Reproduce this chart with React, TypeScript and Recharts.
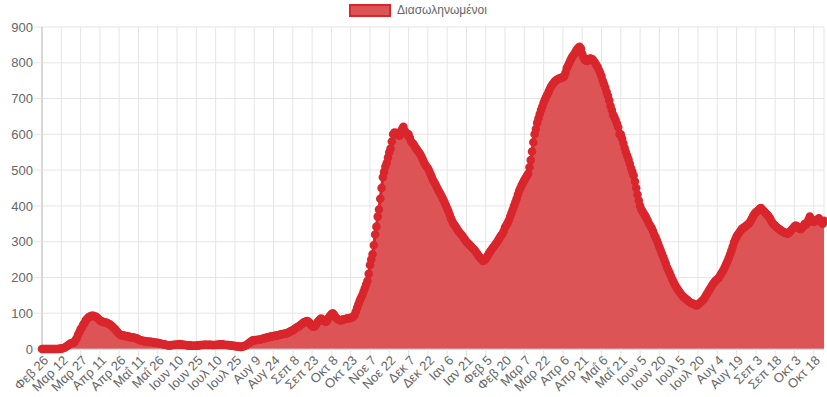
import React from "react";
import {
  AreaChart,
  Area,
  XAxis,
  YAxis,
  CartesianGrid,
  Legend,
} from "recharts";

// daily intubated patients, starting Feb 26 2020 (one row per 15-day tick)
const intubated: number[] = [
  0, 0, 0, 0, 0, 0, 0, 0, 0, 0, 0, 0, 0, 0, 1,
  1, 2, 3, 5, 7, 10, 12, 15, 16, 17, 18, 25, 30, 40, 47,
  55, 60, 68, 72, 80, 84, 88, 90, 92, 93, 93, 91, 90, 87, 84,
  80, 78, 76, 75, 74, 74, 72, 70, 68, 65, 62, 58, 55, 50, 46,
  42, 40, 38, 38, 37, 36, 36, 35, 34, 33, 33, 32, 31, 30, 29,
  27, 25, 24, 23, 22, 22, 21, 21, 20, 20, 20, 19, 18, 17, 17,
  17, 16, 15, 14, 14, 13, 12, 11, 10, 10, 10, 11, 11, 12, 12,
  12, 13, 14, 13, 12, 12, 11, 11, 10, 10, 10, 9, 9, 9, 9,
  9, 10, 10, 11, 11, 11, 12, 12, 12, 11, 12, 12, 11, 11, 11,
  11, 12, 12, 13, 13, 13, 12, 12, 11, 11, 11, 10, 10, 9, 9,
  8, 8, 7, 7, 6, 6, 7, 8, 9, 11, 14, 17, 19, 22, 24,
  24, 25, 25, 26, 26, 27, 28, 29, 30, 31, 32, 33, 34, 35, 35,
  36, 37, 37, 38, 39, 40, 41, 42, 42, 43, 44, 45, 47, 49, 51,
  52, 55, 58, 60, 62, 64, 67, 70, 73, 75, 76, 78, 77, 73, 68,
  64, 62, 63, 68, 74, 78, 82, 85, 82, 79, 77, 76, 82, 88, 93,
  97, 100, 96, 90, 86, 83, 81, 80, 81, 82, 83, 84, 85, 86, 86,
  87, 88, 90, 95, 105, 115, 125, 135, 143, 150, 160, 170, 180, 190, 210,
  235, 250, 265, 290, 320, 342, 370, 390, 420, 450, 480, 495, 510, 520, 535,
  550, 560, 580, 600, 605, 600, 604, 598, 596, 605, 615, 621, 610, 605, 598,
  600, 590, 580, 575, 572, 565, 560, 555, 550, 545, 538, 530, 522, 515, 510,
  505, 498, 490, 481, 472, 466, 460, 452, 445, 438, 432, 425, 418, 410, 402,
  393, 385, 375, 365, 357, 350, 345, 340, 334, 328, 324, 320, 315, 310, 305,
  300, 296, 293, 289, 285, 281, 278, 273, 268, 263, 258, 254, 250, 246, 248,
  252, 258, 264, 270, 275, 280, 285, 290, 295, 300, 306, 312, 317, 322, 330,
  340, 346, 352, 360, 370, 380, 390, 400, 410, 420, 432, 442, 450, 458, 465,
  472, 478, 484, 490, 508, 528, 552, 578, 600, 615, 632, 645, 657, 668, 678,
  688, 697, 705, 712, 720, 728, 735, 740, 745, 749, 752, 754, 756, 757, 758,
  760, 762, 772, 785, 792, 800, 808, 815, 820, 825, 832, 838, 842, 845, 840,
  825, 815, 808, 806, 805, 809, 812, 811, 810, 805, 800, 794, 788, 780, 772,
  762, 750, 740, 730, 718, 708, 695, 680, 668, 655, 648, 640, 630, 620, 600,
  600, 588, 575, 562, 550, 540, 530, 518, 505, 495, 485, 468, 450, 432, 415,
  400, 390, 384, 378, 372, 365, 358, 350, 344, 338, 330, 320, 312, 304, 295,
  285, 276, 266, 257, 248, 238, 228, 220, 212, 204, 195, 188, 180, 174, 168,
  163, 158, 153, 148, 145, 142, 139, 136, 133, 130, 128, 127, 125, 123, 122,
  124, 127, 130, 134, 137, 142, 148, 154, 160, 166, 172, 178, 183, 188, 192,
  195, 198, 204, 210, 216, 222, 230, 238, 246, 255, 265, 275, 286, 298, 306,
  314, 320, 325, 330, 335, 338, 340, 343, 346, 349, 352, 358, 365, 372, 378,
  382, 385, 388, 392, 394, 390, 386, 382, 378, 375, 370, 365, 358, 352, 348,
  345, 341, 338, 335, 333, 330, 328, 326, 325, 323, 322, 326, 330, 334, 338,
  342, 345, 343, 340, 336, 335, 338, 344, 350, 348, 352, 362, 370, 363, 358,
  355, 357, 360, 362, 365, 358, 355, 350, 358,
];

const tickLabels = [
  "Φεβ 26", "Μαρ 12", "Μαρ 27", "Απρ 11", "Απρ 26", "Μαΐ 11", "Μαΐ 26",
  "Ιουν 10", "Ιουν 25", "Ιουλ 10", "Ιουλ 25", "Αυγ 9", "Αυγ 24", "Σεπ 8",
  "Σεπ 23", "Οκτ 8", "Οκτ 23", "Νοε 7", "Νοε 22", "Δεκ 7", "Δεκ 22",
  "Ιαν 6", "Ιαν 21", "Φεβ 5", "Φεβ 20", "Μαρ 7", "Μαρ 22", "Απρ 6",
  "Απρ 21", "Μαΐ 6", "Μαΐ 21", "Ιουν 5", "Ιουν 20", "Ιουλ 5", "Ιουλ 20",
  "Αυγ 4", "Αυγ 19", "Σεπ 3", "Σεπ 18", "Οκτ 3", "Οκτ 18",
];
const tickStep = 15;
const yTicks = [0, 100, 200, 300, 400, 500, 600, 700, 800, 900];
const seriesName = "Διασωληνωμένοι";

const FONT = "'Liberation Sans', Arial, Helvetica, sans-serif";
const LINE = "#d9262c";
const FILL = "#dd5457";

const data = intubated.map((v, i) => ({ day: i, v }));
const xTicks = tickLabels.map((_, i) => i * tickStep);

function XTick(props: any) {
  const { x, y, payload } = props;
  const label = tickLabels[Math.round(payload.value / tickStep)] ?? "";
  const ox = x + 4;
  const oy = y + 1;
  return (
    <text
      x={ox}
      y={oy}
      textAnchor="end"
      dy="0.35em"
      transform={`rotate(-45 ${ox} ${oy})`}
      fill="#666"
      fontSize={13}
      fontFamily={FONT}
    >
      {label}
    </text>
  );
}

function LegendBox() {
  return (
    <div
      style={{
        display: "flex",
        justifyContent: "center",
        alignItems: "center",
        height: 20,
        paddingLeft: 12,
        fontFamily: FONT,
        fontSize: 12,
        color: "#666",
      }}
    >
      <span
        style={{
          display: "inline-block",
          width: 38,
          height: 9,
          background: FILL,
          border: `2px solid ${LINE}`,
          marginRight: 6,
        }}
      />
      {seriesName}
    </div>
  );
}

export default function App() {
  return (
    <div style={{ position: "absolute", left: 0, top: 0, width: 827, height: 397, background: "#fff" }}>
      <AreaChart
        width={827}
        height={397}
        data={data}
        margin={{ top: 7, right: 3, left: 0, bottom: 0 }}
      >
        <Legend verticalAlign="top" wrapperStyle={{ top: 0 }} content={() => <LegendBox />} />
        <CartesianGrid stroke="#e5e5e5" />
        <XAxis
          dataKey="day"
          type="number"
          domain={[0, intubated.length - 1]}
          ticks={xTicks}
          interval={0}
          height={48}
          tick={<XTick />}
          tickSize={8}
          tickMargin={0}
          tickLine={{ stroke: "#e5e5e5" }}
          axisLine={{ stroke: "#bdbdbd" }}
        />
        <YAxis
          domain={[0, 900]}
          ticks={yTicks}
          interval={0}
          width={42}
          tickSize={8}
          tickMargin={1}
          tickLine={{ stroke: "#e5e5e5" }}
          axisLine={{ stroke: "#bdbdbd" }}
          tick={{ fill: "#666", fontSize: 13, fontFamily: FONT }}
        />
        <Area
          type="linear"
          dataKey="v"
          name={seriesName}
          stroke={LINE}
          strokeWidth={3}
          fill={FILL}
          fillOpacity={1}
          dot={{ r: 3.3, fill: LINE, stroke: LINE, strokeWidth: 2 }}
          activeDot={false}
          isAnimationActive={false}
        />
      </AreaChart>
    </div>
  );
}
